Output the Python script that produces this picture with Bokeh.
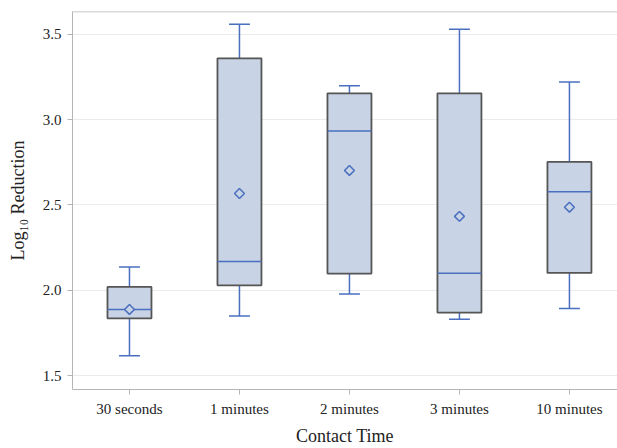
import math
from bokeh.plotting import figure
from bokeh.models import ColumnDataSource, Range1d, FixedTicker, Span
from bokeh.embed import file_html
from bokeh.resources import INLINE

categories = ["30 seconds", "1 minutes", "2 minutes", "3 minutes", "10 minutes"]
whisker_low = [1.616, 1.85, 1.979, 1.83, 1.894]
q1 = [1.836, 2.029, 2.098, 1.869, 2.102]
median = [1.888, 2.169, 2.933, 2.10, 2.577]
q3 = [2.02, 3.359, 3.154, 3.154, 2.752]
whisker_high = [2.137, 3.558, 3.198, 3.529, 3.22]
mean = [1.888, 2.567, 2.702, 2.433, 2.487]

x = list(range(len(categories)))
box_w = 0.4
cap_w = 0.19

src = ColumnDataSource(dict(
    x=x,
    xl=[v - box_w / 2 for v in x], xr=[v + box_w / 2 for v in x],
    cl=[v - cap_w / 2 for v in x], cr=[v + cap_w / 2 for v in x],
    low=whisker_low, q1=q1, med=median, q3=q3, high=whisker_high, mean=mean,
))

FONT = "Liberation Serif"
BLUE = "#4a6fbf"

y_range = Range1d(1.419, 3.633)
p = figure(width=617, height=448, output_backend="svg", toolbar_location=None,
           x_range=Range1d(-0.518, 4.437), y_range=y_range,
           min_border_left=72, min_border_right=0, min_border_top=11, min_border_bottom=54)

p.outline_line_color = None
p.background_fill_color = "white"
p.border_fill_color = "white"
# top frame line (no right border in the reference)
p.add_layout(Span(location=y_range.end, dimension="width", line_color="#b5b5b5", line_width=1.5))

p.xgrid.grid_line_color = None
p.ygrid.grid_line_color = "#ebebeb"
p.ygrid.grid_line_width = 1

p.xaxis.ticker = FixedTicker(ticks=x)
p.xaxis.major_label_overrides = {i: c for i, c in zip(x, categories)}
p.yaxis.ticker = FixedTicker(ticks=[1.5, 2.0, 2.5, 3.0, 3.5])
p.yaxis.major_label_overrides = {1.5: "1.5", 2.0: "2.0", 2.5: "2.5", 3.0: "3.0", 3.5: "3.5"}

for ax in (p.xaxis[0], p.yaxis[0]):
    ax.axis_line_color = "#b5b5b5"
    ax.major_tick_line_color = "#b5b5b5"
    ax.major_tick_out = 5
    ax.major_tick_in = 0
    ax.minor_tick_line_color = None
    ax.major_label_text_font = FONT
    ax.major_label_text_font_size = "15px"
    ax.major_label_text_color = "#222222"
    ax.axis_label_text_font = FONT
    ax.axis_label_text_font_size = "18px"
    ax.axis_label_text_font_style = "normal"
    ax.axis_label_text_color = "#222222"

p.xaxis.axis_label = "Contact Time"
p.yaxis.axis_label = "Log\u2081\u2080 Reduction"
p.xaxis.major_label_standoff = 6
p.xaxis.axis_label_standoff = 6
p.yaxis.major_label_standoff = 6
p.yaxis.axis_label_standoff = 12

# whiskers
p.segment(x0="x", y0="q3", x1="x", y1="high", source=src, line_color=BLUE, line_width=1.5)
p.segment(x0="x", y0="q1", x1="x", y1="low", source=src, line_color=BLUE, line_width=1.5)
p.segment(x0="cl", y0="high", x1="cr", y1="high", source=src, line_color=BLUE, line_width=1.5)
p.segment(x0="cl", y0="low", x1="cr", y1="low", source=src, line_color=BLUE, line_width=1.5)

# boxes
p.vbar(x="x", width=box_w, top="q3", bottom="q1", source=src,
       fill_color="#c8d3e5", line_color="#555555", line_width=1.8)

# median
p.segment(x0="xl", y0="med", x1="xr", y1="med", source=src, line_color=BLUE, line_width=1.5)

# mean
p.scatter(x="x", y="mean", source=src, marker="square", size=7, angle=math.pi / 4,
          fill_color="#c8d3e5", line_color=BLUE, line_width=1.5)

open("out.html", "w").write(file_html(p, INLINE))
